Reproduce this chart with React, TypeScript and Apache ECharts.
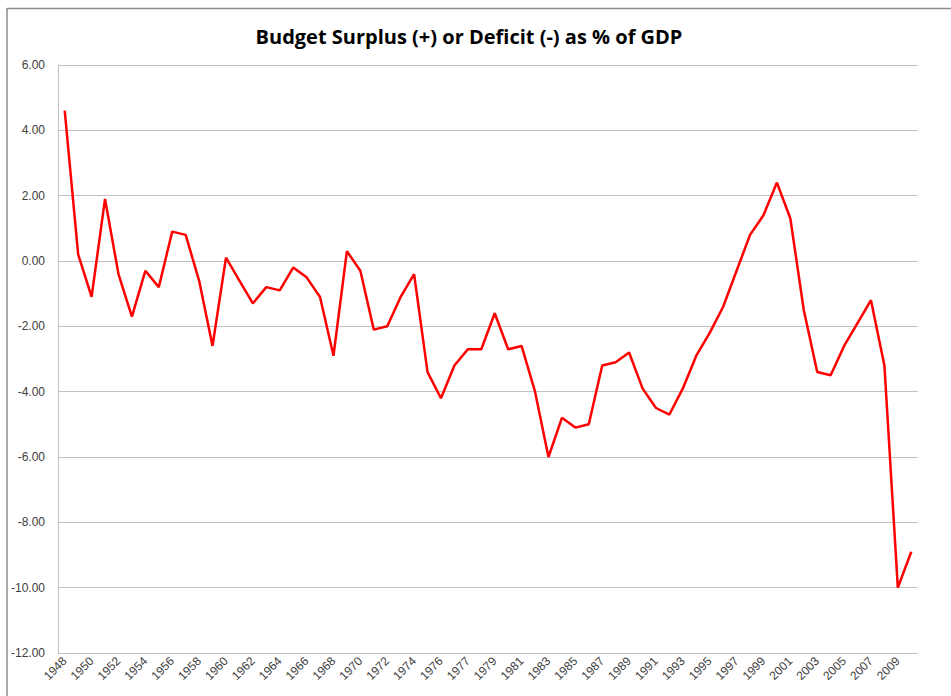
import React, { useEffect, useRef } from "react";
import * as echarts from "echarts";

const years: string[] = [
  "1948", "1949", "1950", "1951", "1952", "1953", "1954", "1955", "1956", "1957",
  "1958", "1959", "1960", "1961", "1962", "1963", "1964", "1965", "1966", "1967",
  "1968", "1969", "1970", "1971", "1972", "1973", "1974", "1975", "1976", "TQ",
  "1977", "1978", "1979", "1980", "1981", "1982", "1983", "1984", "1985", "1986",
  "1987", "1988", "1989", "1990", "1991", "1992", "1993", "1994", "1995", "1996",
  "1997", "1998", "1999", "2000", "2001", "2002", "2003", "2004", "2005", "2006",
  "2007", "2008", "2009", "2010",
];

const surplusPct: number[] = [
  4.6, 0.2, -1.1, 1.9, -0.4, -1.7, -0.3, -0.8, 0.9, 0.8,
  -0.6, -2.6, 0.1, -0.6, -1.3, -0.8, -0.9, -0.2, -0.5, -1.1,
  -2.9, 0.3, -0.3, -2.1, -2.0, -1.1, -0.4, -3.4, -4.2, -3.2,
  -2.7, -2.7, -1.6, -2.7, -2.6, -4.0, -6.0, -4.8, -5.1, -5.0,
  -3.2, -3.1, -2.8, -3.9, -4.5, -4.7, -3.9, -2.9, -2.2, -1.4,
  -0.3, 0.8, 1.4, 2.4, 1.3, -1.5, -3.4, -3.5, -2.6, -1.9,
  -1.2, -3.2, -10.0, -8.9,
];

const titleText = "Budget Surplus (+) or Deficit (-) as % of GDP";

export default function App() {
  const ref = useRef<HTMLDivElement>(null);
  useEffect(() => {
    if (!ref.current) return;
    const chart = echarts.init(ref.current, undefined, { renderer: "svg" });
    chart.setOption({
      animation: false,
      backgroundColor: "#ffffff",
      graphic: [
        {
          type: "line",
          shape: { x1: 7, y1: 8.5, x2: 951, y2: 8.5 },
          style: { stroke: "#8c8c8c", lineWidth: 1.5 },
        },
        {
          type: "line",
          shape: { x1: 7, y1: 8, x2: 7, y2: 696 },
          style: { stroke: "#8c8c8c", lineWidth: 1.5 },
        },
        {
          type: "text",
          x: 469,
          y: 36,
          style: {
            text: titleText,
            align: "center",
            verticalAlign: "middle",
            fontFamily: "Open Sans",
            fontWeight: "bold",
            fontSize: 20,
            fill: "#000000",
          },
        },
      ],
      grid: { left: 58, right: 33, top: 65, bottom: 43 },
      xAxis: {
        type: "category",
        data: years,
        boundaryGap: true,
        axisLine: { show: false },
        axisTick: { show: false },
        axisLabel: {
          interval: 1,
          rotate: 45,
          margin: 6,
          fontFamily: "Liberation Sans",
          fontSize: 12,
          color: "#404040",
        },
        splitLine: { show: false },
      },
      yAxis: {
        type: "value",
        min: -12,
        max: 6,
        interval: 2,
        axisLine: { show: true, lineStyle: { color: "#c0c0c0", width: 1 } },
        axisTick: { show: false },
        axisLabel: {
          margin: 13,
          fontFamily: "Liberation Sans",
          fontSize: 12,
          color: "#404040",
          formatter: (v: number) => v.toFixed(2),
        },
        splitLine: { show: true, lineStyle: { color: "#c0c0c0", width: 1 } },
      },
      series: [
        {
          type: "line",
          data: surplusPct,
          symbol: "none",
          lineStyle: { color: "#ff0000", width: 2.5 },
          itemStyle: { color: "#ff0000" },
        },
      ],
    });
    return () => chart.dispose();
  }, []);
  return (
    <div
      ref={ref}
      style={{ position: "absolute", left: 0, top: 0, width: 951, height: 696 }}
    />
  );
}
